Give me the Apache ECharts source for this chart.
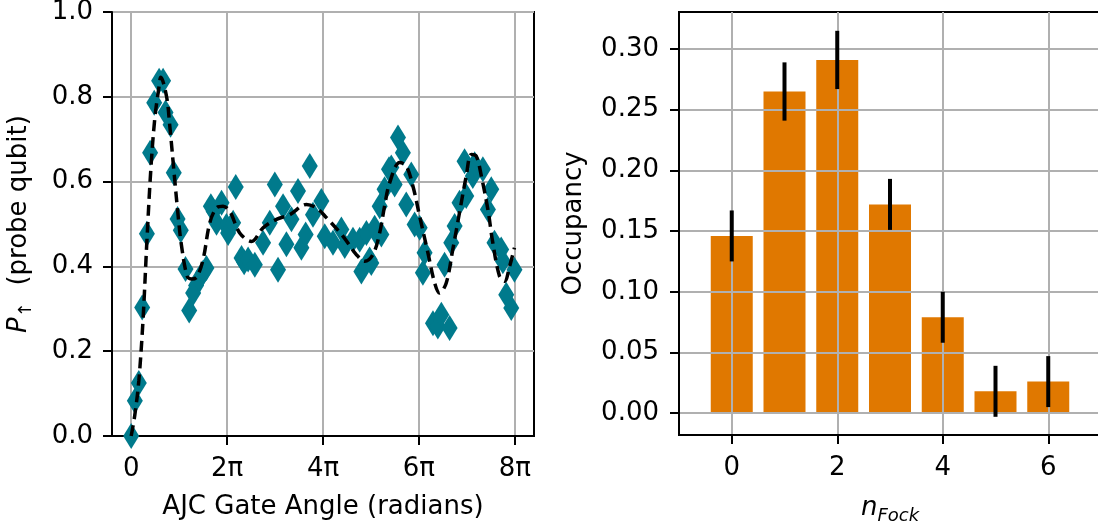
<!DOCTYPE html>
<html>
<head>
<meta charset="utf-8">
<script src="https://cdn.jsdelivr.net/npm/echarts@6/dist/echarts.min.js"></script>
<style>
  html, body { margin: 0; padding: 0; background: #fff; }
  #main { width: 1098px; height: 523px; }
</style>
</head>
<body>
<div id="main"></div>
<script>
var PI = Math.PI;

// measured probe population vs AJC gate angle (radians)
var pointAngle = [0.00, 0.24, 0.50, 0.72, 1.03, 1.24, 1.51, 1.83, 2.09, 2.25, 2.58, 2.79, 3.04, 3.25,
    3.56, 3.80, 4.06, 4.25, 4.45, 4.71, 4.93, 5.22, 5.40, 5.59, 5.92, 6.24, 6.35, 6.68, 6.85, 7.23,
    7.40, 7.66, 8.10, 8.64, 9.08, 9.41, 9.62, 9.95, 10.17, 10.50, 10.93, 11.15, 11.43, 11.70, 11.91,
    12.46, 12.68, 13.22, 13.77, 13.99, 14.53, 14.97, 15.08, 15.41, 15.62, 15.73, 15.95, 16.06, 16.28,
    16.39, 16.60, 16.89, 17.04, 17.26, 17.48, 17.80, 18.02, 18.35, 18.57, 18.90, 19.11, 19.22, 19.77,
    20.09, 20.32, 20.53, 20.86, 20.97, 21.19, 21.51, 21.84, 21.95, 22.38, 22.50, 23.04, 23.37, 23.59,
    23.80, 24.24, 24.35, 24.57, 24.90, 25.11];
var pointProb = [0.000, 0.083, 0.125, 0.303, 0.477, 0.668, 0.786, 0.838, 0.838, 0.763, 0.734, 0.621, 0.512, 0.485,
    0.394, 0.296, 0.337, 0.355, 0.370, 0.385, 0.396, 0.542, 0.530, 0.503, 0.550, 0.495, 0.479, 0.503, 0.587, 0.420,
    0.410, 0.416, 0.404, 0.456, 0.503, 0.593, 0.392, 0.542, 0.452, 0.511, 0.578, 0.444, 0.475, 0.637, 0.522,
    0.554, 0.471, 0.456, 0.487, 0.448, 0.463, 0.463, 0.388, 0.479, 0.416, 0.408, 0.491, 0.479, 0.542,
    0.475, 0.582, 0.629, 0.633, 0.593, 0.704, 0.668, 0.546, 0.617, 0.499, 0.491, 0.385, 0.432, 0.266,
    0.258, 0.286, 0.404, 0.255, 0.456, 0.495, 0.550, 0.648, 0.566, 0.613, 0.641, 0.629, 0.534, 0.582,
    0.456, 0.440, 0.412, 0.333, 0.302, 0.392];

// fitted curve (dashed)
var fitAngle = [0.00, 0.24, 0.50, 0.77, 1.03, 1.29, 1.55, 1.81, 1.94, 2.32, 2.53, 2.79, 3.08, 3.30, 3.67,
    3.97, 4.30, 4.71, 5.15, 5.59, 6.02, 6.46, 7.11, 7.88, 8.64, 9.52, 10.39, 11.48, 12.13, 12.79, 13.88,
    14.75, 15.30, 15.84, 16.28, 16.60, 16.93, 17.59, 18.02, 18.46, 18.90, 19.44, 19.88, 20.20, 20.64,
    21.07, 21.51, 21.95, 22.28, 22.61, 22.94, 23.37, 23.69, 24.13, 24.46, 24.79, 25.11];
var fitProb = [0.000, 0.050, 0.130, 0.270, 0.460, 0.630, 0.750, 0.820, 0.846, 0.800, 0.731, 0.629, 0.518, 0.448, 0.377,
    0.370, 0.375, 0.416, 0.503, 0.538, 0.542, 0.530, 0.479, 0.459, 0.491, 0.511, 0.522, 0.546, 0.538, 0.515, 0.471,
    0.428, 0.412, 0.428, 0.479, 0.542, 0.597, 0.645, 0.637, 0.589, 0.518, 0.432, 0.361, 0.337, 0.361,
    0.440, 0.527, 0.613, 0.664, 0.660, 0.613, 0.534, 0.456, 0.377, 0.365, 0.400, 0.444];

// Fock state occupancy
var fockN = [0, 1, 2, 3, 4, 5, 6];
var occupancy = [0.146, 0.265, 0.291, 0.172, 0.079, 0.018, 0.026];
var occupancyErr = [0.021, 0.024, 0.024, 0.021, 0.021, 0.021, 0.021];

var angleTicks = [0, 2 * PI, 4 * PI, 6 * PI, 8 * PI];
var angleTickLabels = ['0', '2π', '4π', '6π', '8π'];
var fockTicks = [0, 2, 4, 6];
var occTicks = [0, 0.05, 0.10, 0.15, 0.20, 0.25, 0.30];

var FONT = 'DejaVu Sans';
var FS = 26;

function zip(a, b) {
    return a.map(function(v, i) { return [v, b[i]]; });
}

function axisCommon() {
    return {
        axisLine: { show: true, onZero: false, lineStyle: { color: '#000', width: 2 } },
        axisTick: { show: true, length: 9, lineStyle: { color: '#000', width: 2 } },
        axisLabel: { color: '#000', fontFamily: FONT, fontSize: FS },
        splitLine: { show: true, lineStyle: { color: '#b0b0b0', width: 2 } },
        nameTextStyle: { color: '#000', fontFamily: FONT, fontSize: FS }
    };
}

function mergeAxis(extra) {
    var a = axisCommon();
    for (var k in extra) {
        if (typeof extra[k] === 'object' && !Array.isArray(extra[k]) && a[k]) {
            for (var j in extra[k]) a[k][j] = extra[k][j];
        } else {
            a[k] = extra[k];
        }
    }
    return a;
}

var chart = echarts.init(document.getElementById('main'));

var option = {
    animation: false,
    backgroundColor: '#fff',
    grid: [
        { left: 112, top: 12, width: 422, height: 424, show: true, borderColor: '#000', borderWidth: 2,
          containLabel: false, outerBoundsMode: 'none' },
        { left: 679, top: 12, width: 422, height: 423, show: true, borderColor: '#000', borderWidth: 2,
          containLabel: false, outerBoundsMode: 'none' }
    ],
    xAxis: [
        mergeAxis({
            type: 'value', gridIndex: 0,
            min: -0.4 * PI, max: 8.4 * PI,
            axisTick: { customValues: angleTicks },
            axisLabel: {
                customValues: angleTicks, margin: 20,
                formatter: function(v) {
                    var best = 0;
                    angleTicks.forEach(function(t, i) {
                        if (Math.abs(t - v) < Math.abs(angleTicks[best] - v)) best = i;
                    });
                    return angleTickLabels[best];
                }
            },
            name: 'AJC Gate Angle (radians)', nameLocation: 'middle', nameGap: 58
        }),
        mergeAxis({
            type: 'value', gridIndex: 1,
            min: -1, max: 7,
            axisTick: { customValues: fockTicks },
            axisLabel: { customValues: fockTicks, margin: 20 },
            name: '{n|n}{sub|Fock}', nameLocation: 'middle', nameGap: 56,
            nameTextStyle: {
                rich: {
                    n: { fontFamily: FONT, fontSize: FS, fontStyle: 'italic', color: '#000', lineHeight: 34, verticalAlign: 'middle' },
                    sub: { fontFamily: FONT, fontSize: 18, fontStyle: 'italic', color: '#000', lineHeight: 34, verticalAlign: 'bottom' }
                }
            },
            z: 3
        })
    ],
    yAxis: [
        mergeAxis({
            type: 'value', gridIndex: 0,
            min: 0, max: 1, interval: 0.2,
            axisLabel: { margin: 19, formatter: function(v) { return v.toFixed(1); } },
            name: '{p|P}{sub|↑}  {t|(probe qubit)}', nameLocation: 'middle', nameGap: 77, nameRotate: 90,
            nameTextStyle: {
                rich: {
                    p: { fontFamily: FONT, fontSize: FS, fontStyle: 'italic', color: '#000', lineHeight: 32, verticalAlign: 'middle' },
                    sub: { fontFamily: FONT, fontSize: 18, color: '#000', lineHeight: 32, verticalAlign: 'bottom' },
                    t: { fontFamily: FONT, fontSize: FS, color: '#000', lineHeight: 32, verticalAlign: 'middle' }
                }
            }
        }),
        mergeAxis({
            type: 'value', gridIndex: 1,
            min: -0.018, max: 0.3305,
            axisTick: { customValues: occTicks },
            axisLabel: { customValues: occTicks, margin: 20, formatter: function(v) { return v.toFixed(2); } },
            name: 'Occupancy', nameLocation: 'middle', nameGap: 92, nameRotate: 90,
            z: 3
        })
    ],
    series: [
        {
            type: 'scatter', xAxisIndex: 0, yAxisIndex: 0,
            data: zip(pointAngle, pointProb),
            symbol: 'diamond', symbolSize: [16, 26],
            itemStyle: { color: '#007A8C', opacity: 1 },
            z: 2
        },
        {
            type: 'line', xAxisIndex: 0, yAxisIndex: 0,
            data: zip(fitAngle, fitProb),
            showSymbol: false, smooth: 0.35,
            lineStyle: { color: '#000', width: 3.5, type: [11, 6] },
            z: 4
        },
        {
            type: 'bar', xAxisIndex: 1, yAxisIndex: 1,
            data: zip(fockN, occupancy),
            barWidth: 42,
            itemStyle: { color: '#E07800' },
            z: 1
        },
        {
            type: 'custom', xAxisIndex: 1, yAxisIndex: 1,
            data: fockN.map(function(n, i) { return [n, occupancy[i], occupancyErr[i]]; }),
            renderItem: function(params, api) {
                var x = api.value(0), y = api.value(1), e = api.value(2);
                var top = api.coord([x, y + e]);
                var bot = api.coord([x, y - e]);
                return {
                    type: 'line',
                    shape: { x1: top[0], y1: top[1], x2: bot[0], y2: bot[1] },
                    style: { stroke: '#000', lineWidth: 4 }
                };
            },
            z: 5
        }
    ]
};

chart.setOption(option);
</script>
</body>
</html>
